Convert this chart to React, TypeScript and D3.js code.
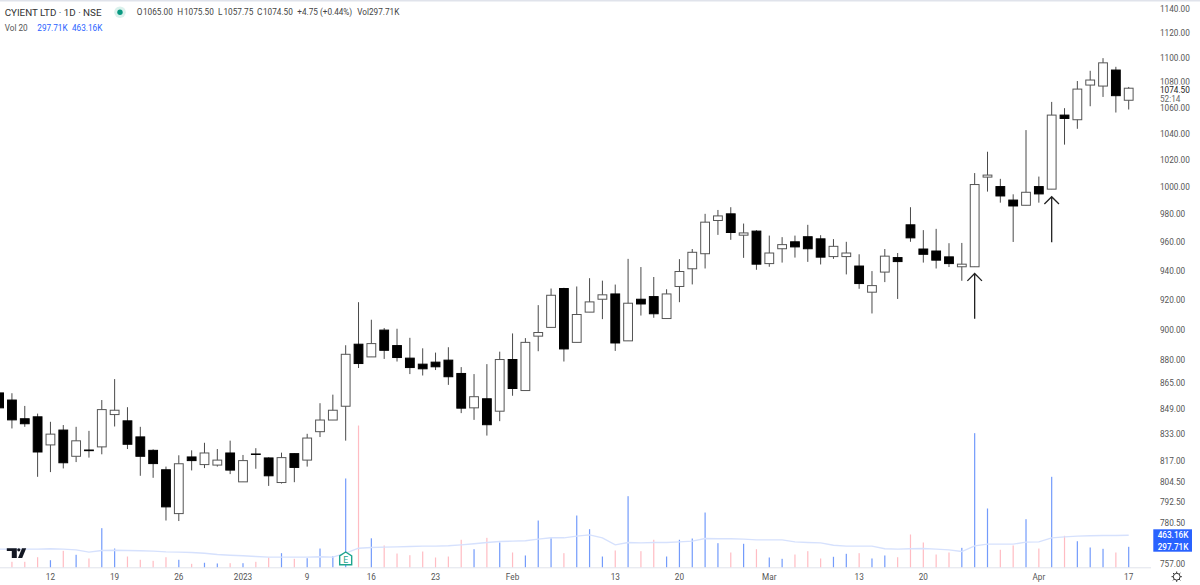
import { useEffect, useRef } from 'react';
import * as d3 from 'd3';

const width = 1200;
const height = 585;

// daily candles, oldest first
const opens = [858.2, 853.7, 842, 843.2, 825.9, 835, 819, 822.8, 824.7, 844.6, 840.7, 830.8, 822.6, 810.9, 785.1, 818.6, 814, 813.7, 821, 803.7, 820.4, 818, 803.3, 820.6, 816.7, 834, 841.2, 849.8, 889.6, 881.3, 898.9, 888.7, 880.5, 876.6, 877.9, 879.2, 870.6, 848.8, 854.5, 846.7, 879.6, 859.7, 894.9, 900.7, 926.9, 890.8, 910.9, 919.6, 923.2, 891.8, 919.6, 921.4, 906.6, 928.3, 940.5, 951, 974.6, 979.4, 964.1, 967, 944.1, 954.5, 959.4, 963, 961.5, 949, 949, 942.4, 924.4, 938.2, 948.3, 971.5, 954.3, 952.9, 948.8, 941.9, 941.9, 1006.3, 999.3, 989.4, 985.6, 999.3, 997.4, 1053.4, 1049.8, 1077, 1076.2, 1089, 1065];
const highs = [860.1, 858, 850, 845.2, 840.1, 838.1, 837, 834.5, 853.7, 867, 849.2, 837, 823.2, 812.8, 819.6, 822.6, 827.2, 823.4, 828.5, 819.8, 823.9, 818.4, 821.2, 820.8, 832.7, 851.7, 857.1, 888.9, 917.6, 905.8, 900.3, 899.8, 893.8, 886.9, 884.1, 887.6, 874.7, 870.2, 876.6, 884.7, 896.7, 893.6, 915.6, 926.9, 927.4, 928.3, 934, 932.3, 929.6, 947.4, 941.7, 934.8, 926.4, 947.2, 954.3, 979.4, 982.2, 984.2, 972.4, 967.7, 963.8, 962.7, 963.8, 971.5, 964.1, 961.3, 959.4, 950.6, 938.9, 954.3, 951.5, 984.2, 967.7, 968.6, 958.4, 958.6, 1009.3, 1025.3, 1005, 993.6, 1041.8, 1006.7, 1063.7, 1058.8, 1080.2, 1088.4, 1098.6, 1091.6, 1075.5];
const lows = [844.4, 836, 837, 806.7, 809.5, 811.7, 815.5, 818.2, 820.2, 837.2, 823.4, 807.3, 806.1, 781.1, 780.8, 810.5, 811.9, 812.8, 808.3, 803.7, 811.5, 801.3, 802.7, 803.5, 812.8, 830.7, 841.2, 828.5, 874.1, 881.3, 880, 878.3, 870.2, 869.3, 872.8, 863.3, 845.5, 841.3, 831.6, 840.5, 856.4, 859.7, 885, 900.7, 878.3, 890.8, 910.9, 906.2, 885.2, 891.8, 908.6, 907.1, 906.6, 917.6, 929.7, 940.7, 964.3, 960.8, 948.1, 939.8, 941.9, 944.8, 948.3, 945.3, 943.5, 947.4, 936.6, 926.7, 910, 931.3, 919.8, 959.4, 944.8, 940.7, 941.7, 932.2, 941.9, 995.6, 987.5, 959.3, 985.6, 987.5, 997.4, 1030.7, 1042.8, 1060.3, 1067.6, 1055.4, 1057.75];
const closes = [848.8, 841.3, 838.9, 821.6, 832.5, 815.1, 828.4, 822.4, 847.7, 847.3, 826.3, 819, 814.6, 789, 814.5, 816.4, 821, 816.7, 810.7, 816.4, 820.1, 807.3, 818.2, 812.3, 830.1, 841.2, 847.3, 883, 877, 890, 885.6, 880.9, 874.4, 873.6, 874.9, 868.5, 848.6, 855.8, 838.3, 879.6, 861, 890.8, 897.3, 922.3, 886.5, 909.3, 917.8, 922.6, 890.4, 916.9, 916.4, 909.8, 923.2, 938.6, 952, 973.4, 977.9, 966, 965.7, 943.7, 951.5, 957.4, 955.8, 954.5, 948.6, 956.2, 951.5, 930.3, 928.9, 949.3, 945.5, 962.2, 950.6, 946.5, 944.1, 943.7, 1000.8, 1007.8, 992.4, 985.1, 995.1, 993.9, 1053.4, 1050.8, 1073.8, 1081, 1094.8, 1068.6, 1074.5];

// volume and its 20 day average, in thousands
const volumes = [72, 82, 82, 148, 105, 240, 183, 130, 566, 273, 158, 111, 96, 148, 111, 53, 68, 58, 62, 62, 82, 144, 206, 125, 134, 273, 163, 1281, 2043, 420, 317, 201, 177, 230, 144, 158, 399, 263, 427, 360, 216, 173, 676, 422, 206, 748, 551, 158, 245, 1026, 235, 399, 158, 399, 417, 791, 350, 216, 341, 263, 144, 125, 187, 235, 130, 154, 197, 206, 130, 173, 148, 475, 360, 187, 216, 283, 1933, 849, 255, 317, 695, 273, 1305, 456, 378, 288, 269, 216, 297.71];
const volumeAvg = [264, 264, 264, 264, 269, 264, 254, 221, 245, 249, 245, 240, 235, 225, 221, 216, 206, 187, 177, 168, 158, 149, 149, 149, 149, 154, 149, 206, 278, 288, 293, 297, 302, 307, 307, 312, 326, 341, 360, 374, 379, 384, 408, 427, 427, 451, 470, 427, 326, 360, 355, 360, 360, 369, 379, 417, 413, 413, 408, 398, 398, 398, 369, 360, 355, 321, 307, 307, 307, 269, 264, 269, 273, 264, 254, 230, 312, 336, 336, 336, 365, 369, 427, 441, 451, 456, 461, 461, 463.16];

const priceTicks = [1140, 1120, 1100, 1080, 1060, 1040, 1020, 1000, 980, 960, 940, 920, 900, 880, 865, 849, 833, 817, 804.5, 792.5, 780.5, 757];
const timeTickIndex = [4, 9, 14, 19, 24, 29, 34, 40, 48, 53, 60, 67, 72, 81, 88];
const timeTickLabels = ['12', '19', '26', '2023', '9', '16', '23', 'Feb', '13', '20', 'Mar', '13', '20', 'Apr', '17'];

// hand drawn arrows on the chart
const arrowIndex = [76, 82];
const arrowTips = [937.2, 991.8];
const arrowTails = [906.4, 959.1];

const earningsIndex = 27;
const fontFamily = 'Roboto, "Open Sans", sans-serif';

export default function App() {
  const svgRef = useRef<SVGSVGElement>(null);

  useEffect(() => {
    const svg = d3.select(svgRef.current);
    svg.selectAll('*').remove();

    const x = d3.scaleLinear().domain([0, 88]).range([-0.9, 1128.7]);
    const y = d3.scaleLog().domain([757, 1140]).range([563, 8]);
    const yVol = d3.scaleLinear().domain([0, 2200]).range([567.5, 414.6]);

    const chart = svg.append('g');

    svg.append('rect').attr('width', width).attr('height', 1.5).attr('fill', '#e0e3eb');

    // Volume bars
    chart.selectAll('.vol')
      .data(volumes)
      .enter().append('rect')
      .attr('class', 'vol')
      .attr('x', (d, i) => x(i) - 0.6)
      .attr('y', d => yVol(d))
      .attr('width', 1.2)
      .attr('height', d => yVol(0) - yVol(d))
      .attr('fill', (d, i) => (closes[i] < opens[i] ? '#ffbcc3' : '#739bfb'));

    // Volume average
    const avgLine = d3.line<number>()
      .x((d, i) => x(i))
      .y(d => yVol(d));

    chart.append('path')
      .attr('d', avgLine(volumeAvg) || '')
      .attr('fill', 'none')
      .attr('stroke', '#d6e1fd')
      .attr('stroke-width', 1.4);

    // Candles
    const candles = chart.selectAll('.candle')
      .data(opens)
      .enter().append('g')
      .attr('class', 'candle');

    candles.append('line')
      .attr('x1', (d, i) => x(i))
      .attr('x2', (d, i) => x(i))
      .attr('y1', (d, i) => y(highs[i]))
      .attr('y2', (d, i) => y(lows[i]))
      .attr('stroke', '#4a4a4a')
      .attr('stroke-width', 1);

    candles.append('rect')
      .attr('x', (d, i) => x(i) - 4.4)
      .attr('y', (d, i) => y(Math.max(opens[i], closes[i])))
      .attr('width', 8.8)
      .attr('height', (d, i) => Math.abs(y(opens[i]) - y(closes[i])))
      .attr('fill', (d, i) => (closes[i] < opens[i] ? '#000' : '#fff'))
      .attr('stroke', (d, i) => (closes[i] < opens[i] ? '#000' : '#555'))
      .attr('stroke-width', 1);

    // Arrows
    arrowIndex.forEach((idx, i) => {
      const ax = x(idx);
      const tip = y(arrowTips[i]);
      const tail = y(arrowTails[i]);
      const arrow = d3.path();
      arrow.moveTo(ax, tail);
      arrow.lineTo(ax, tip);
      arrow.moveTo(ax - 7.3, tip + 7.3);
      arrow.lineTo(ax, tip);
      arrow.lineTo(ax + 7.3, tip + 7.3);
      chart.append('path')
        .attr('d', arrow.toString())
        .attr('fill', 'none')
        .attr('stroke', '#222')
        .attr('stroke-width', 1.3);
    });

    // Bottom axis
    chart.append('line')
      .attr('x1', 0)
      .attr('x2', 1151)
      .attr('y1', 567.8)
      .attr('y2', 567.8)
      .attr('stroke', '#e0e3eb')
      .attr('stroke-width', 1);

    chart.selectAll('.time-tick')
      .data(timeTickLabels)
      .enter().append('text')
      .attr('class', 'time-tick')
      .attr('x', (d, i) => x(timeTickIndex[i]))
      .attr('y', 579.5)
      .attr('text-anchor', 'middle')
      .style('font-family', fontFamily)
      .style('font-size', '8.2px')
      .style('fill', '#555')
      .text(d => d);

    // Earnings marker
    const ex = x(earningsIndex);
    const marker = chart.append('g').attr('transform', `translate(${ex}, 0)`);
    marker.append('path')
      .attr('d', 'M-6,555.8 L0,552 L6,555.8 L6,564.8 L-6,564.8 Z')
      .attr('fill', '#fff')
      .attr('stroke', '#1fa58e')
      .attr('stroke-width', 1.4);
    marker.append('text')
      .attr('y', 562.6)
      .attr('text-anchor', 'middle')
      .style('font-family', fontFamily)
      .style('font-size', '8.8px')
      .style('fill', '#1fa58e')
      .text('E');

    // TradingView logo
    const logo = chart.append('g').attr('fill', '#131722');
    logo.append('path').attr('d', 'M6.8,548.2 H16.8 V558 H11.8 V551 H6.8 Z');
    logo.append('circle').attr('cx', 18.8).attr('cy', 549.8).attr('r', 1.6);
    logo.append('path').attr('d', 'M22,548.2 H26.2 L22.2,558 H18 Z');

    // Price axis
    const axis = svg.append('g');
    axis.selectAll('.price-tick')
      .data(priceTicks)
      .enter().append('text')
      .attr('class', 'price-tick')
      .attr('x', 1160)
      .attr('y', d => y(d) + 4.1)
      .style('font-family', fontFamily)
      .style('font-size', '8.2px')
      .style('fill', '#555')
      .text(d => d.toFixed(2));

    // Last price label covers the tick under it
    axis.append('rect').attr('x', 1152).attr('y', 84.6).attr('width', 40).attr('height', 18.6).attr('fill', '#fff');
    axis.append('text').attr('x', 1160).attr('y', y(closes[88]) + 4.6)
      .style('font-family', fontFamily).style('font-size', '8.2px').style('fill', '#222')
      .text(closes[88].toFixed(2));
    axis.append('text').attr('x', 1160).attr('y', 102)
      .style('font-family', fontFamily).style('font-size', '8.2px').style('fill', '#666')
      .text('52:14');

    // Volume labels
    axis.append('rect').attr('x', 1153.3).attr('y', 529.3).attr('width', 38.7).attr('height', 22.4).attr('fill', '#2962ff');
    [volumeAvg[88], volumes[88]].forEach((v, i) => {
      axis.append('text')
        .attr('x', 1173)
        .attr('y', 538.4 + i * 11.4)
        .attr('text-anchor', 'middle')
        .style('font-family', fontFamily)
        .style('font-size', '8.2px')
        .style('font-weight', '500')
        .style('fill', '#fff')
        .text(v.toFixed(2) + 'K');
    });

    // Settings gear
    const gear = axis.append('g')
      .attr('transform', 'translate(1176.7, 576.7)')
      .attr('fill', 'none')
      .attr('stroke', '#333')
      .attr('stroke-width', 1);
    gear.append('circle').attr('r', 3.4);
    d3.range(8).forEach(k => {
      const a = (k * Math.PI) / 4;
      gear.append('line')
        .attr('x1', 3.4 * Math.cos(a))
        .attr('y1', 3.4 * Math.sin(a))
        .attr('x2', 5.2 * Math.cos(a))
        .attr('y2', 5.2 * Math.sin(a));
    });

    // Legend
    const legendText = (tx: number, ty: number, size: number, fill: string, text: string) =>
      svg.append('text')
        .attr('x', tx)
        .attr('y', ty)
        .style('font-family', fontFamily)
        .style('font-size', `${size}px`)
        .style('fill', fill)
        .text(text);

    legendText(4.7, 15.7, 9.8, '#333', 'CYIENT LTD · 1D · NSE');
    svg.append('circle').attr('cx', 120).attr('cy', 12.2).attr('r', 5.8).attr('fill', '#daf1ec');
    svg.append('circle').attr('cx', 120).attr('cy', 12.2).attr('r', 2.7).attr('fill', '#089981');

    legendText(136.7, 15.4, 8.2, '#444', 'O');
    legendText(143, 15.4, 8.2, '#444', opens[88].toFixed(2));
    legendText(177.3, 15.4, 8.2, '#444', 'H');
    legendText(184, 15.4, 8.2, '#444', highs[88].toFixed(2));
    legendText(218, 15.4, 8.2, '#444', 'L');
    legendText(223.5, 15.4, 8.2, '#444', lows[88].toFixed(2));
    legendText(257, 15.4, 8.2, '#444', 'C');
    legendText(263, 15.4, 8.2, '#444', closes[88].toFixed(2));
    legendText(297.3, 15.4, 8.2, '#444', '+4.75 (+0.44%)');
    legendText(357.3, 15.4, 8.2, '#444', 'Vol297.71K');

    legendText(4.7, 31, 8.2, '#555', 'Vol 20');
    legendText(37.3, 31, 8.2, '#2962ff', '297.71K');
    legendText(72, 31, 8.2, '#2962ff', '463.16K');
  }, []);

  return (
    <svg
      ref={svgRef}
      width={width}
      height={height}
      style={{ position: 'fixed', left: 0, top: 0, display: 'block', background: '#fff' }}
    />
  );
}
